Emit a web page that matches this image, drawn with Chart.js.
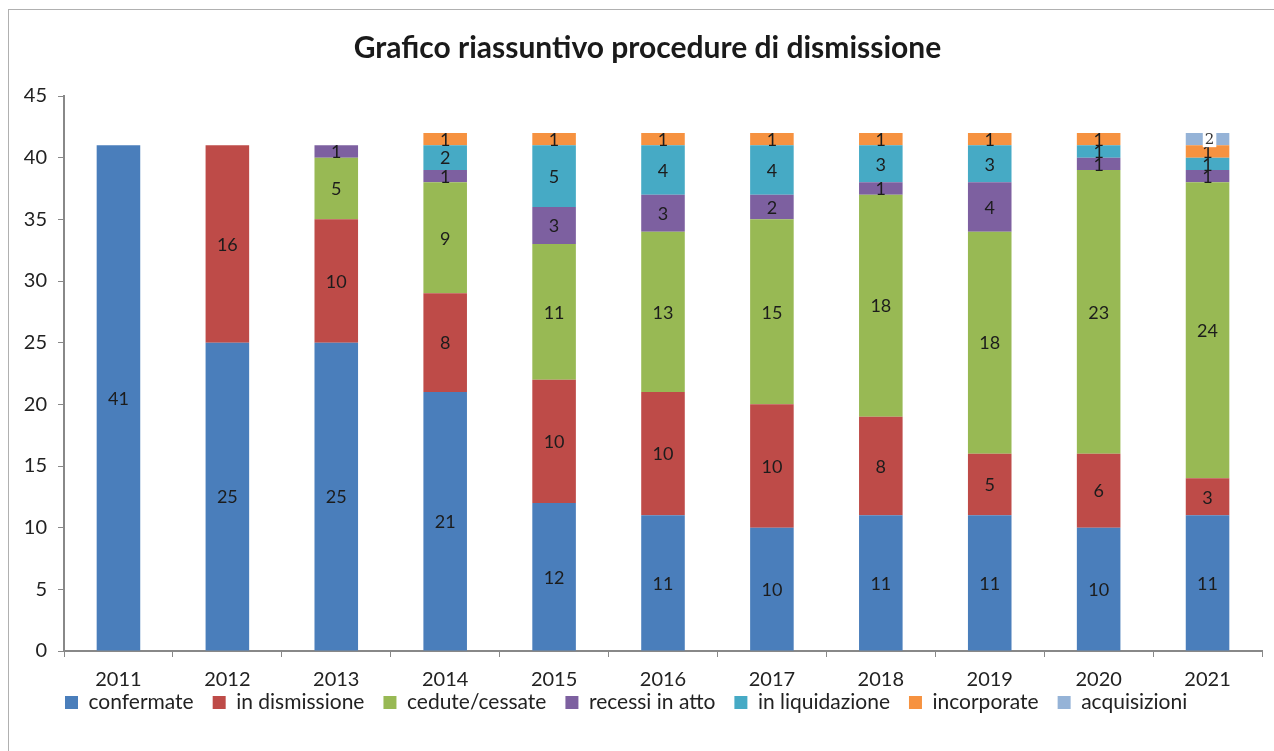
<!DOCTYPE html>
<html>
<head>
<meta charset="utf-8">
<script src="https://cdn.jsdelivr.net/npm/chart.js@4"></script>
<style>
  body { margin: 0; background: #fff; overflow: hidden; }
  #box { position: absolute; left: 8px; top: 9px; width: 1290px; height: 770px; border: 1px solid #b0b0b0; }
  #c { position: absolute; left: 0; top: 0; }
</style>
</head>
<body>
<div id="box"><canvas id="c" width="1265" height="742"></canvas></div>
<script>
const categories = ["2011", "2012", "2013", "2014", "2015", "2016", "2017", "2018", "2019", "2020", "2021"];
const confermate    = [41, 25, 25, 21, 12, 11, 10, 11, 11, 10, 11];
const inDismissione = [null, 16, 10, 8, 10, 10, 10, 8, 5, 6, 3];
const cedute        = [null, null, 5, 9, 11, 13, 15, 18, 18, 23, 24];
const recessi       = [null, null, 1, 1, 3, 3, 2, 1, 4, 1, 1];
const liquidazione  = [null, null, null, 2, 5, 4, 4, 3, 3, 1, 1];
const incorporate   = [null, null, null, 1, 1, 1, 1, 1, 1, 1, 1];
const acquisizioni  = [null, null, null, null, null, null, null, null, null, null, 1];
// the original shows "2" on the 2021 acquisizioni segment although it is one unit tall
const acquisizioniLabels = [null, null, null, null, null, null, null, null, null, null, "2"];
const yTicks = [0, 5, 10, 15, 20, 25, 30, 35, 40, 45];

const font = "Lato";

// draws the value in the middle of every segment
const segmentLabels = {
    id: "segmentLabels",
    afterDatasetsDraw(chart) {
        const ctx = chart.ctx;
        ctx.save();
        ctx.textAlign = "center";
        ctx.textBaseline = "middle";
        chart.data.datasets.forEach((ds, i) => {
            const meta = chart.getDatasetMeta(i);
            meta.data.forEach((bar, j) => {
                const v = ds.data[j];
                if (v === null || v === undefined) return;
                const text = ds.labelTexts && ds.labelTexts[j] ? ds.labelTexts[j] : String(v);
                const y = (bar.y + bar.base) / 2;
                if (ds.labelBox) {
                    ctx.font = "15px 'DejaVu Serif'";
                    const w = ctx.measureText(text).width + 4;
                    ctx.fillStyle = "#fff";
                    ctx.fillRect(bar.x - w / 2 + 2, y - 8, w, 16);
                    ctx.fillStyle = "#333";
                    ctx.fillText(text, bar.x + 2, y + 1);
                    return;
                }
                ctx.font = "18px " + font;
                ctx.fillStyle = "#1c1c1c";
                ctx.fillText(text, bar.x, y + 1);
            });
        });
        ctx.restore();
    }
};

// moves the legend so it starts under the y axis, close to the year labels
const legendShift = {
    id: "legendShift",
    afterLayout(chart) {
        chart.legend.left += 33;
        chart.legend.top -= 22;
        chart.titleBlock.left += 20;
    }
};

const ctx = document.getElementById("c");
new Chart(ctx, {
    type: "bar",
    data: {
        labels: categories,
        datasets: [
            {label: "confermate", data: confermate, backgroundColor: "#4A7EBB"},
            {label: "in dismissione", data: inDismissione, backgroundColor: "#BE4B48"},
            {label: "cedute/cessate", data: cedute, backgroundColor: "#98B954"},
            {label: "recessi in atto", data: recessi, backgroundColor: "#7D60A0"},
            {label: "in liquidazione", data: liquidazione, backgroundColor: "#46AAC5"},
            {label: "incorporate", data: incorporate, backgroundColor: "#F69240"},
            {label: "acquisizioni", data: acquisizioni, backgroundColor: "#95B3D7", labelTexts: acquisizioniLabels, labelBox: true}
        ]
    },
    options: {
        responsive: false,
        animation: false,
        barPercentage: 0.4,
        categoryPercentage: 1,
        layout: {padding: {left: 4, right: 12, top: 0, bottom: 7}},
        plugins: {
            title: {
                display: true,
                text: "Grafico riassuntivo procedure di dismissione",
                color: "#1a1a1a",
                font: {family: font, size: 30, weight: "bold"},
                padding: {top: 20, bottom: 30}
            },
            legend: {
                position: "bottom",
                align: "start",
                labels: {
                    color: "#222",
                    font: {family: font, size: 21},
                    boxWidth: 13,
                    boxHeight: 13,
                    padding: 19
                }
            },
            tooltip: {enabled: false}
        },
        scales: {
            x: {
                stacked: true,
                grid: {drawOnChartArea: false, drawTicks: true, tickLength: 6, color: "#888", offset: true},
                border: {color: "#888", width: 2},
                ticks: {color: "#222", font: {family: font, size: 20}, padding: 11},
                afterFit(scale) { scale.height = 44; }
            },
            y: {
                stacked: true,
                min: 0,
                max: 45,
                afterBuildTicks(scale) { scale.ticks = yTicks.map(v => ({value: v})); },
                grid: {drawOnChartArea: false, drawTicks: true, tickLength: 6, color: "#888"},
                border: {color: "#888", width: 2},
                ticks: {color: "#222", font: {family: font, size: 20}, padding: 11},
                afterFit(scale) { scale.width = 51; }
            }
        }
    },
    plugins: [segmentLabels, legendShift]
});
</script>
</body>
</html>
